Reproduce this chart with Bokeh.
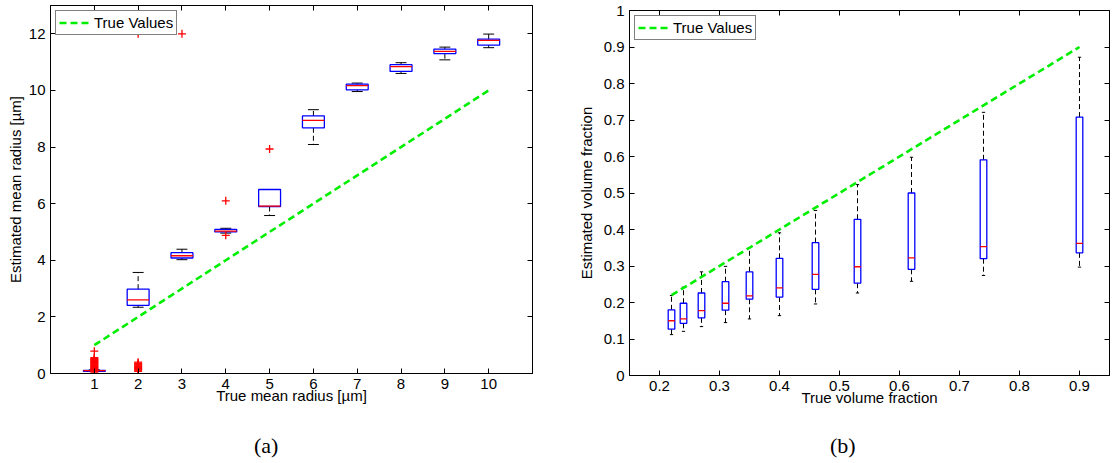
import numpy as np
from bokeh.plotting import figure
from bokeh.layouts import row, column
from bokeh.models import FixedTicker, LinearAxis, Div
from bokeh.embed import file_html
from bokeh.resources import INLINE

# ---------------- data: (a) mean radius ----------------
rad_true = [1, 2, 3, 4, 5, 6, 7, 8, 9, 10]
rad_wlo = [0.07, 2.34, 4.02, 4.96, 5.58, 8.09, 9.96, 10.60, 11.08, 11.51]
rad_q1 = [0.08, 2.41, 4.08, 5.00, 5.90, 8.68, 10.02, 10.67, 11.30, 11.60]
rad_med = [0.10, 2.60, 4.16, 5.03, 5.91, 8.94, 10.17, 10.84, 11.38, 11.77]
rad_q3 = [0.11, 2.98, 4.27, 5.09, 6.50, 9.10, 10.22, 10.91, 11.46, 11.81]
rad_whi = [0.13, 3.57, 4.39, 5.13, 6.50, 9.32, 10.26, 10.98, 11.53, 11.99]
rad_out_x = [1] * 21 + [2] * 12 + [3, 4, 4, 5]
rad_out_y = [0.05, 0.08, 0.12, 0.15, 0.18, 0.20, 0.22, 0.25, 0.28, 0.30, 0.33,
             0.35, 0.38, 0.40, 0.43, 0.45, 0.48, 0.50, 0.53, 0.56, 0.79,
             0.08, 0.12, 0.15, 0.18, 0.21, 0.24, 0.27, 0.30, 0.33, 0.36, 0.40, 12.0,
             12.0, 6.10, 4.88, 7.93]
rad_xticks = [1, 2, 3, 4, 5, 6, 7, 8, 9, 10]
rad_yticks = [0, 2, 4, 6, 8, 10, 12]

# ---------------- data: (b) volume fraction ----------------
vf_true = [0.22, 0.24, 0.27, 0.31, 0.35, 0.40, 0.46, 0.53, 0.62, 0.74, 0.90]
vf_wlo = [0.112, 0.121, 0.134, 0.145, 0.155, 0.164, 0.196, 0.226, 0.258, 0.274, 0.297]
vf_q1 = [0.127, 0.143, 0.158, 0.179, 0.209, 0.215, 0.236, 0.253, 0.291, 0.320, 0.336]
vf_med = [0.150, 0.155, 0.178, 0.198, 0.218, 0.240, 0.277, 0.298, 0.322, 0.353, 0.362]
vf_q3 = [0.180, 0.198, 0.226, 0.257, 0.284, 0.321, 0.364, 0.428, 0.500, 0.591, 0.708]
vf_whi = [0.219, 0.242, 0.284, 0.299, 0.350, 0.391, 0.452, 0.523, 0.598, 0.721, 0.872]
vf_xticks = [0.2, 0.3, 0.4, 0.5, 0.6, 0.7, 0.8, 0.9]
vf_xlabels = ["0.2", "0.3", "0.4", "0.5", "0.6", "0.7", "0.8", "0.9"]
vf_yticks = [0, 0.1, 0.2, 0.3, 0.4, 0.5, 0.6, 0.7, 0.8, 0.9, 1.0]
vf_ylabels = ["0", "0.1", "0.2", "0.3", "0.4", "0.5", "0.6", "0.7", "0.8", "0.9", "1"]

FONT = "Liberation Sans"
SERIF = "Liberation Serif"
FS = "15px"
BLUE = "#0000ff"
RED = "#ff0000"
GREEN = "#00ee00"
FIG_H = 410


def style_axis(ax, ticks, labels=True):
    ax.ticker = FixedTicker(ticks=ticks)
    ax.major_tick_in = 5
    ax.major_tick_out = 0
    ax.minor_tick_line_color = None
    ax.axis_line_color = "black"
    ax.axis_line_width = 1
    ax.major_tick_line_color = "black"
    ax.major_tick_line_width = 1
    ax.major_label_text_font = FONT
    ax.axis_label_text_font = FONT
    ax.axis_label_text_font_size = FS
    ax.axis_label_text_font_style = "normal"
    ax.axis_label_text_color = "black"
    if labels:
        ax.major_label_text_color = "black"
        ax.major_label_text_font_size = FS
        ax.major_label_standoff = 5
    else:
        ax.major_label_text_color = None
        ax.major_label_text_font_size = "1px"
        ax.major_label_standoff = -10


def make_fig(width, xr, yr, bl, br, bt, bb):
    p = figure(width=width, height=FIG_H, x_range=xr, y_range=yr, title=None,
               output_backend="svg", toolbar_location=None,
               min_border_left=bl, min_border_right=br,
               min_border_top=bt, min_border_bottom=bb)
    p.xgrid.visible = False
    p.ygrid.visible = False
    p.outline_line_color = "black"
    p.outline_line_width = 1
    p.background_fill_color = "white"
    p.border_fill_color = "white"
    return p


def boxes(p, x, wlo, q1, med, q3, whi, bw):
    x = np.array(x, dtype=float)
    cw = bw / 2.0
    p.segment(x0=x, y0=q3, x1=x, y1=whi, line_color="black", line_width=1, line_dash="5 3")
    p.segment(x0=x, y0=q1, x1=x, y1=wlo, line_color="black", line_width=1, line_dash="5 3")
    p.segment(x0=x - cw / 2, y0=whi, x1=x + cw / 2, y1=whi, line_color="black", line_width=1)
    p.segment(x0=x - cw / 2, y0=wlo, x1=x + cw / 2, y1=wlo, line_color="black", line_width=1)
    p.vbar(x=x, width=bw, top=q3, bottom=q1, fill_alpha=0, line_color=BLUE, line_width=1.3)
    p.segment(x0=x - bw / 2, y0=med, x1=x + bw / 2, y1=med, line_color=RED, line_width=1.3)


def style_legend(p):
    lg = p.legend[0]
    lg.location = "top_left"
    lg.margin = 5
    lg.padding = 3
    lg.spacing = 0
    lg.label_standoff = 5
    lg.glyph_width = 30
    lg.glyph_height = 15
    lg.label_height = 15
    lg.label_text_font = FONT
    lg.label_text_font_size = FS
    lg.label_text_color = "black"
    lg.border_line_color = "black"
    lg.border_line_width = 1
    lg.background_fill_color = "white"
    lg.background_fill_alpha = 1


def add_mirror_axes(p, xt, yt):
    top = LinearAxis()
    style_axis(top, xt, labels=False)
    p.add_layout(top, "above")
    right = LinearAxis()
    style_axis(right, yt, labels=False)
    p.add_layout(right, "right")


def caption(text, width, pad_left, pad_top):
    html = ('<div style="padding-left:%dpx;padding-top:%dpx;font-family:\'%s\';'
            'font-size:22px;line-height:25px;color:black;white-space:nowrap;">%s</div>'
            % (pad_left, pad_top, SERIF, text))
    return Div(text=html, width=width, height=463 - FIG_H, margin=0)


# ---------------- (a) ----------------
pa = make_fig(560, (0, 11), (0, 13), 50, 28, 5, FIG_H - 373)
boxes(pa, rad_true, rad_wlo, rad_q1, rad_med, rad_q3, rad_whi, 0.5)
pa.scatter(rad_out_x, rad_out_y, marker="cross", size=8, line_color=RED, line_width=1.3)
pa.line(rad_true, rad_true, line_color=GREEN, line_width=2.6, line_dash="7 4",
        legend_label="True Values")
style_axis(pa.xaxis[0], rad_xticks)
style_axis(pa.yaxis[0], rad_yticks)
pa.xaxis[0].axis_label = "True mean radius [µm]"
pa.xaxis[0].axis_label_standoff = -5
pa.yaxis[0].axis_label = "Estimated mean radius [µm]"
pa.yaxis[0].axis_label_standoff = 2
add_mirror_axes(pa, rad_xticks, rad_yticks)
style_legend(pa)

# ---------------- (b) ----------------
pb = make_fig(553, (0.15, 0.95), (0, 1), 69, 4, 10, FIG_H - 375)
boxes(pb, vf_true, vf_wlo, vf_q1, vf_med, vf_q3, vf_whi, 0.011)
pb.line(vf_true, vf_true, line_color=GREEN, line_width=2.6, line_dash="7 4",
        legend_label="True Values")
style_axis(pb.xaxis[0], vf_xticks)
style_axis(pb.yaxis[0], vf_yticks)
pb.xaxis[0].major_label_overrides = dict(zip(vf_xticks, vf_xlabels))
pb.yaxis[0].major_label_overrides = dict(zip(vf_yticks, vf_ylabels))
pb.xaxis[0].axis_label = "True volume fraction"
pb.xaxis[0].axis_label_standoff = -5
pb.yaxis[0].axis_label = "Estimated volume fraction"
pb.yaxis[0].axis_label_standoff = 6
add_mirror_axes(pb, vf_xticks, vf_yticks)
style_legend(pb)

cap_a = caption("(a)", 560, 254, 23)
cap_b = caption("(b)", 553, 270, 23)

layout = row(column(pa, cap_a), column(pb, cap_b))
open("out.html", "w").write(file_html(layout, INLINE))
